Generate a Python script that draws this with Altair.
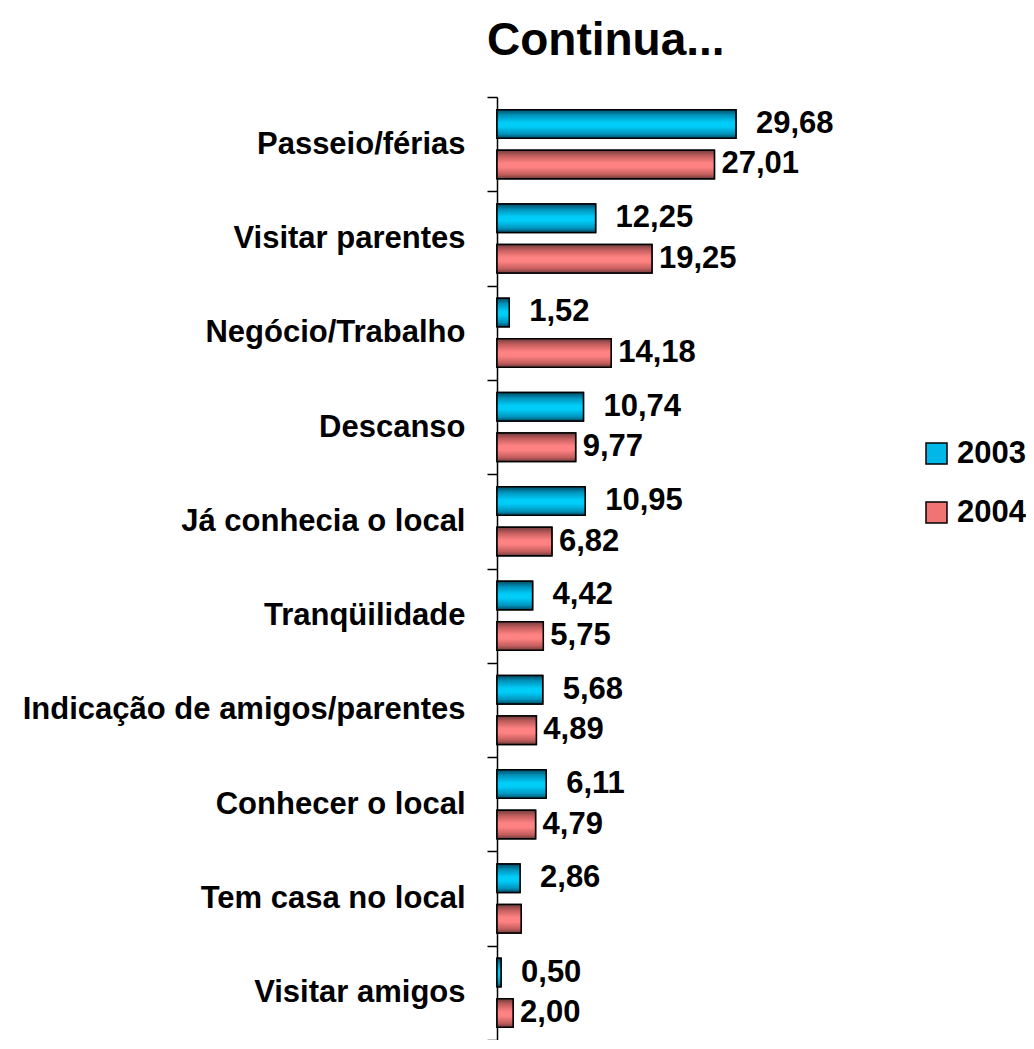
import altair as alt
import pandas as pd

categories = ["Passeio/férias", "Visitar parentes", "Negócio/Trabalho", "Descanso",
              "Já conhecia o local\u00a0", "Tranqüilidade\u00a0", "Indicação de amigos/parentes",
              "Conhecer o local", "Tem casa no local", "Visitar amigos"]
years = ["2003", "2004"]
v2003 = [29.68, 12.25, 1.52, 10.74, 10.95, 4.42, 5.68, 6.11, 2.86, 0.50]
v2004 = [27.01, 19.25, 14.18, 9.77, 6.82, 5.75, 4.89, 4.79, 3.00, 2.00]
lab2003 = ["29,68", "12,25", "1,52", "10,74", "10,95", "4,42", "5,68", "6,11", "2,86", "0,50"]
lab2004 = ["27,01", "19,25", "14,18", "9,77", "6,82", "5,75", "4,89", "4,79", "", "2,00"]

rows = []
for c, a, b, la, lb in zip(categories, v2003, v2004, lab2003, lab2004):
    rows.append({"cat": c, "year": "2003", "value": a, "label": la})
    rows.append({"cat": c, "year": "2004", "value": b, "label": lb})
df = pd.DataFrame(rows)

FONT = "Liberation Sans, Arial, sans-serif"
FS = 31

def grad(dark, mid, bright):
    return alt.Gradient(
        gradient="linear", x1=0, x2=0, y1=0, y2=1,
        stops=[
            alt.GradientStop(offset=0, color=dark),
            alt.GradientStop(offset=0.2, color=mid),
            alt.GradientStop(offset=0.45, color=bright),
            alt.GradientStop(offset=0.6, color=bright),
            alt.GradientStop(offset=0.85, color=mid),
            alt.GradientStop(offset=1, color=dark),
        ])

blue_grad = grad("#004a64", "#0094bc", "#00ccf8")
red_grad = grad("#703c3c", "#c45e5e", "#ff8282")

base = alt.Chart(df).encode(
    y=alt.Y("cat:N", sort=categories,
            scale=alt.Scale(paddingInner=0, paddingOuter=0),
            axis=alt.Axis(title=None, tickBand="extent", tickSize=10, tickColor="black",
                          tickWidth=1.5, domainColor="black", domainWidth=1.5,
                          labelFont=FONT, labelFontSize=FS, labelFontWeight="bold",
                          labelColor="black", labelPadding=22, labelLimit=800)),
    yOffset=alt.YOffset("year:N", scale=alt.Scale(domain=years, paddingInner=0.296, paddingOuter=0.312)),
    x=alt.X("value:Q", scale=alt.Scale(domain=[0, 40]), axis=None),
)

solid = base.mark_bar(stroke="black", strokeWidth=1.5).encode(
    color=alt.Color("year:N", scale=alt.Scale(domain=years, range=["#00b8e8", "#f07474"]),
                    legend=alt.Legend(title=None, orient="none", legendX=424, legendY=341,
                                      symbolType="square", symbolSize=441,
                                      symbolStrokeColor="black", symbolStrokeWidth=1.5,
                                      labelFont=FONT, labelFontSize=FS, labelFontWeight="bold",
                                      labelColor="black", rowPadding=27, labelOffset=5))
)

b03 = base.transform_filter(alt.datum.year == "2003").mark_bar(
    color=blue_grad, stroke="black", strokeWidth=1.5)
b04 = base.transform_filter(alt.datum.year == "2004").mark_bar(
    color=red_grad, stroke="black", strokeWidth=1.5)

t03 = base.transform_filter(alt.datum.year == "2003").mark_text(
    align="left", baseline="middle", dx=20, font=FONT, fontSize=FS, fontWeight="bold",
    color="black").encode(text="label:N")
t04 = base.transform_filter(alt.datum.year == "2004").mark_text(
    align="left", baseline="middle", dx=7, font=FONT, fontSize=FS, fontWeight="bold",
    color="black").encode(text="label:N")

chart = alt.layer(solid, b03, b04, t03, t04).properties(
    width=322, height=943,
    title=alt.TitleParams("Continua...", font=FONT, fontSize=46, fontWeight="bold",
                          color="black", anchor="start", frame="group", dx=-10, offset=16),
    autosize=alt.AutoSizeParams(type="none"),
    padding={"left": 489, "top": 89, "right": 207, "bottom": 0},
).configure_view(stroke=None)

chart.save("out.html", embed_options={"renderer": "svg", "actions": False})
